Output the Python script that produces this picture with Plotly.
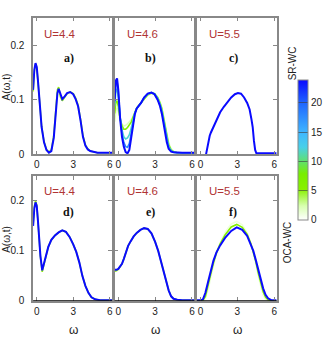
import plotly.graph_objects as go
from plotly.colors import sample_colorscale

# ---------------- data ----------------
U_LABELS = ["U=4.4", "U=4.6", "U=5.5", "U=4.4", "U=4.6", "U=5.5"]
PANEL_LETTERS = ["a)", "b)", "c)", "d)", "e)", "f)"]
X_TICKS = [0, 3, 6]
Y_TICKS = [0, 0.1, 0.2]
Y_TICK_TEXT = ["0", "0.1", "0.2"]
CB_TICKS = [0, 5, 10, 15, 20]
T_MAX = 24

# panel a (SR-WC, U=4.4)
W_A = [-0.3, -0.2, -0.1, 0.0, 0.1, 0.25, 0.4, 0.6, 0.8, 1.0, 1.2, 1.4, 1.55, 1.7, 1.8, 1.95,
       2.1, 2.3, 2.5, 2.75, 3.0, 3.2, 3.4, 3.6, 3.8, 4.0, 4.2, 4.4, 4.7, 5.0, 5.5, 6.2]
A_T5 = [0.115, 0.152, 0.165, 0.158, 0.134, 0.086, 0.051, 0.023, 0.009, 0.004, 0.008, 0.034,
        0.080, 0.118, 0.123, 0.105, 0.098, 0.104, 0.111, 0.114, 0.111, 0.103, 0.090, 0.064,
        0.034, 0.017, 0.010, 0.006, 0.004, 0.003, 0.003, 0.003]
A_T24 = [0.118, 0.155, 0.167, 0.160, 0.135, 0.085, 0.050, 0.022, 0.008, 0.003, 0.006, 0.030,
         0.075, 0.112, 0.120, 0.108, 0.101, 0.106, 0.112, 0.114, 0.110, 0.101, 0.088, 0.062,
         0.032, 0.016, 0.009, 0.006, 0.004, 0.003, 0.003, 0.003]

# panel b (SR-WC, U=4.6)
W_B = [-0.3, -0.2, -0.1, 0.0, 0.15, 0.3, 0.45, 0.6, 0.75, 0.9, 1.05, 1.2, 1.35, 1.5, 1.65, 1.85,
       2.1, 2.4, 2.7, 2.95, 3.2, 3.4, 3.55, 3.7, 3.8, 3.95, 4.1, 4.3, 4.5, 4.8, 5.2, 6.2]
B_T2 = [0.060, 0.080, 0.085, 0.078, 0.062, 0.055, 0.052, 0.053, 0.056, 0.059, 0.063, 0.070,
        0.078, 0.085, 0.089, 0.094, 0.101, 0.108, 0.111, 0.111, 0.105, 0.096, 0.086, 0.070,
        0.056, 0.038, 0.021, 0.010, 0.005, 0.003, 0.003, 0.003]
B_T6 = [0.075, 0.095, 0.098, 0.088, 0.065, 0.052, 0.046, 0.046, 0.049, 0.053, 0.059, 0.068,
        0.078, 0.085, 0.089, 0.094, 0.102, 0.109, 0.112, 0.111, 0.104, 0.094, 0.083, 0.066,
        0.052, 0.034, 0.018, 0.008, 0.005, 0.003, 0.003, 0.003]
B_T12 = [0.088, 0.115, 0.120, 0.105, 0.068, 0.045, 0.032, 0.028, 0.030, 0.036, 0.048, 0.063,
         0.076, 0.084, 0.088, 0.094, 0.103, 0.110, 0.113, 0.111, 0.103, 0.092, 0.080, 0.062,
         0.047, 0.029, 0.015, 0.007, 0.004, 0.003, 0.003, 0.003]
B_T18 = [0.095, 0.128, 0.133, 0.115, 0.068, 0.038, 0.022, 0.014, 0.013, 0.020, 0.038, 0.059,
         0.075, 0.084, 0.088, 0.094, 0.104, 0.111, 0.113, 0.110, 0.101, 0.090, 0.077, 0.058,
         0.043, 0.025, 0.012, 0.006, 0.004, 0.003, 0.003, 0.003]
B_T24 = [0.098, 0.135, 0.139, 0.118, 0.065, 0.032, 0.014, 0.004, 0.002, 0.008, 0.030, 0.055,
         0.074, 0.084, 0.088, 0.094, 0.104, 0.111, 0.113, 0.110, 0.100, 0.088, 0.074, 0.055,
         0.040, 0.022, 0.010, 0.005, 0.004, 0.003, 0.003, 0.003]

# panel c (SR-WC, U=5.5)
W_C = [0.45, 0.6, 0.75, 0.85, 1.0, 1.3, 1.6, 1.9, 2.2, 2.5, 2.8, 3.05, 3.3, 3.55, 3.8, 4.0,
       4.15, 4.25, 4.35, 4.45, 4.55, 4.7, 5.0, 5.5, 6.2]
C_T24 = [0.0, 0.018, 0.034, 0.040, 0.048, 0.064, 0.077, 0.087, 0.096, 0.104, 0.110, 0.112,
         0.111, 0.104, 0.094, 0.082, 0.064, 0.050, 0.025, 0.008, 0.002, 0.002, 0.002, 0.002, 0.002]

# panel d (OCA-WC, U=4.4)
W_D = [-0.3, -0.2, -0.1, 0.0, 0.1, 0.2, 0.3, 0.45, 0.6, 0.75, 0.95, 1.2, 1.5, 1.8, 2.1, 2.4,
       2.7, 3.0, 3.25, 3.5, 3.75, 4.0, 4.25, 4.5, 4.8, 5.2, 5.8, 6.2]
D_T5 = [0.152, 0.188, 0.200, 0.192, 0.160, 0.124, 0.089, 0.058, 0.072, 0.088, 0.108, 0.122,
        0.131, 0.137, 0.141, 0.138, 0.128, 0.113, 0.098, 0.077, 0.050, 0.030, 0.016, 0.007,
        0.003, 0.001, 0.001, 0.001]
D_T24 = [0.150, 0.185, 0.197, 0.190, 0.160, 0.125, 0.090, 0.061, 0.074, 0.088, 0.108, 0.122,
         0.131, 0.137, 0.141, 0.138, 0.128, 0.113, 0.098, 0.077, 0.050, 0.030, 0.016, 0.007,
         0.003, 0.001, 0.001, 0.001]

# panel e (OCA-WC, U=4.6)
W_E = [-0.3, -0.15, 0.0, 0.15, 0.3, 0.45, 0.6, 0.8, 1.0, 1.25, 1.5, 1.8, 2.1, 2.4, 2.7, 3.0,
       3.25, 3.5, 3.7, 3.9, 4.1, 4.3, 4.5, 4.8, 5.2, 6.2]
E_T5 = [0.059, 0.060, 0.063, 0.068, 0.074, 0.084, 0.095, 0.110, 0.119, 0.129, 0.136, 0.142,
        0.1455, 0.144, 0.135, 0.118, 0.100, 0.078, 0.058, 0.038, 0.021, 0.009, 0.004, 0.002,
        0.001, 0.001]
E_T24 = [0.062, 0.062, 0.064, 0.068, 0.074, 0.084, 0.095, 0.110, 0.119, 0.129, 0.136, 0.142,
         0.1455, 0.144, 0.135, 0.118, 0.100, 0.078, 0.058, 0.038, 0.021, 0.009, 0.004, 0.002,
         0.001, 0.001]

# panel f (OCA-WC, U=5.5)
W_F = [-0.3, 0.0, 0.2, 0.4, 0.65, 0.85, 1.05, 1.3, 1.6, 2.0, 2.5, 2.95, 3.4, 3.8, 4.1, 4.3,
       4.5, 4.7, 4.9, 5.1, 5.3, 5.5, 5.8, 6.2]
F_T1 = [0.0, 0.0, 0.0, 0.004, 0.025, 0.048, 0.070, 0.094, 0.116, 0.137, 0.154, 0.159, 0.152,
        0.136, 0.115, 0.097, 0.075, 0.050, 0.027, 0.011, 0.003, 0.001, 0.0, 0.0]
F_T6 = [0.0, 0.0, 0.001, 0.009, 0.032, 0.055, 0.075, 0.096, 0.114, 0.132, 0.148, 0.153, 0.147,
        0.133, 0.115, 0.099, 0.079, 0.056, 0.035, 0.018, 0.007, 0.002, 0.0, 0.0]
F_T24 = [0.001, 0.001, 0.003, 0.016, 0.041, 0.062, 0.080, 0.097, 0.111, 0.126, 0.140, 0.147,
         0.142, 0.130, 0.114, 0.100, 0.082, 0.061, 0.042, 0.025, 0.012, 0.005, 0.001, 0.001]

PANELS = [
    (W_A, [(5, A_T5), (24, A_T24)]),
    (W_B, [(2, B_T2), (6, B_T6), (12, B_T12), (18, B_T18), (24, B_T24)]),
    (W_C, [(24, C_T24)]),
    (W_D, [(5, D_T5), (24, D_T24)]),
    (W_E, [(5, E_T5), (24, E_T24)]),
    (W_F, [(1, F_T1), (6, F_T6), (24, F_T24)]),
]

# ---------------- style ----------------
W, H = 334, 354
CSCALE = [[0.0, '#ffffff'], [0.1, '#d8ffb0'], [0.22, '#88f000'], [0.33, '#78ee00'],
          [0.42, '#60e070'], [0.52, '#48d0e8'], [0.62, '#40b8ff'], [0.83, '#2068ff'],
          [1.0, '#0a0aff']]

col_px = [(33.5, 113.5), (116.0, 196.8), (199.2, 280.0)]
row_px = [(18.0, 157.0), (179.0, 306.0)]
XR = [-0.3, 6.2]
YR = [0, 0.25]
FRAME = '#888888'
FONT = "Liberation Sans, Arial, sans-serif"
TICKFONT = dict(size=10, color='#222', family=FONT)

fig = go.Figure()
layout = dict(width=W, height=H, margin=dict(l=0, r=0, t=0, b=0),
              paper_bgcolor='white', plot_bgcolor='white', showlegend=False,
              font=dict(family=FONT, size=10, color='#222'))

annotations = []
shapes = []
for i, (w, curves) in enumerate(PANELS):
    r, c = divmod(i, 3)
    n = i + 1
    xa = 'xaxis' if n == 1 else f'xaxis{n}'
    ya = 'yaxis' if n == 1 else f'yaxis{n}'
    xr = 'x' if n == 1 else f'x{n}'
    yr = 'y' if n == 1 else f'y{n}'
    x0, x1 = col_px[c]
    y0, y1 = row_px[r]
    layout[xa] = dict(domain=[x0 / W, x1 / W], range=XR, anchor=yr,
                      showline=True, mirror='ticks', linecolor=FRAME, linewidth=1.5,
                      ticks='inside', ticklen=4, tickcolor=FRAME, tickwidth=1,
                      tickvals=X_TICKS, showgrid=False, zeroline=False,
                      ticklabelstandoff=0, tickfont=TICKFONT)
    layout[ya] = dict(domain=[1 - y1 / H, 1 - y0 / H], range=YR, anchor=xr,
                      showline=True, mirror='ticks', linecolor=FRAME, linewidth=1.5,
                      ticks='inside', ticklen=4, tickcolor=FRAME, tickwidth=1,
                      tickvals=Y_TICKS, ticktext=Y_TICK_TEXT, showgrid=False, zeroline=False,
                      showticklabels=(c == 0), ticklabelstandoff=5, tickfont=TICKFONT)
    for t, a in curves:
        colr = sample_colorscale(CSCALE, [t / T_MAX])[0]
        fig.add_trace(go.Scatter(x=w, y=a, mode='lines', xaxis=xr, yaxis=yr,
                                 line=dict(color=colr, width=2 if t == T_MAX else 1.6),
                                 hoverinfo='skip'))
    annotations.append(dict(x=1.95, y=0.22, xref=xr, yref=yr, text=U_LABELS[i],
                            showarrow=False, font=dict(size=11.5, color='#b03434', family=FONT)))
    annotations.append(dict(x=2.65, y=0.177, xref=xr, yref=yr, text=f"<b>{PANEL_LETTERS[i]}</b>",
                            showarrow=False,
                            font=dict(size=12, color='#111', family="Liberation Serif, serif")))
    if r == 1:
        shapes.append(dict(type='line', xref=f'{xr} domain', yref=yr, x0=0, x1=1, y0=0, y1=0,
                           line=dict(color='black', width=1.6)))
        annotations.append(dict(x=3, y=1 - 336 / H, xref=xr, yref='paper', text='ω',
                                yanchor='middle', showarrow=False,
                                font=dict(size=12, color='#222', family=FONT)))

side_labels = [('A(ω,t)', 7, 88, 10), ('A(ω,t)', 7, 243, 10),
               ('SR-WC', 296, 64, 10), ('OCA-WC', 291, 247, 10)]
for txt, px, py, fs in side_labels:
    annotations.append(dict(x=px / W, y=1 - py / H, xref='paper', yref='paper', text=txt,
                            textangle=-90, xanchor='center', yanchor='middle', showarrow=False,
                            font=dict(size=fs, color='#222', family=FONT)))

fig.add_trace(go.Scatter(x=[None], y=[None], mode='markers', xaxis='x', yaxis='y',
                         marker=dict(color=[0], colorscale=CSCALE, cmin=0, cmax=T_MAX,
                                     showscale=True,
                                     colorbar=dict(x=302 / W, xanchor='left', y=1 - 81 / H,
                                                   yanchor='top', len=142 / H, lenmode='fraction',
                                                   thickness=10, outlinewidth=1,
                                                   outlinecolor=FRAME, tickvals=CB_TICKS,
                                                   ticks='inside', ticklen=10,
                                                   tickcolor='rgba(60,60,60,0.6)',
                                                   tickfont=TICKFONT,
                                                   xpad=0, ypad=0)),
                         hoverinfo='skip'))

layout['annotations'] = annotations
layout['shapes'] = shapes
fig.update_layout(**layout)
fig.write_html("out.html", config={'displayModeBar': False},
               post_script="document.body.style.margin='0px';")
